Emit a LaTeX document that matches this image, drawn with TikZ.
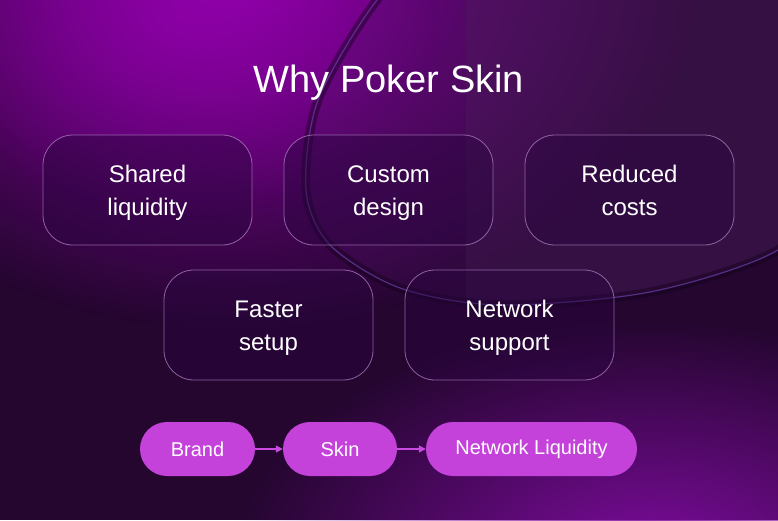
\documentclass[tikz,border=0pt]{standalone}
\usepackage{fontspec}
\setmainfont{Liberation Sans}
\usetikzlibrary{fadings,arrows.meta,shapes.misc}
\tikzfading[name=softglow, inner color=transparent!0, outer color=transparent!100]
\definecolor{bgbase}{HTML}{24062F}
\definecolor{glowtl}{HTML}{9200AC}
\definecolor{glowbr}{HTML}{7E0C9E}
\definecolor{ringin}{HTML}{4A1460}
\definecolor{ringright}{HTML}{4A2258}
\definecolor{ringdark}{HTML}{14021C}
\definecolor{ringhi}{HTML}{6A40A8}
\definecolor{boxfill}{HTML}{2A0540}
\definecolor{boxline}{HTML}{B888CC}
\definecolor{pill}{HTML}{C442DA}
\definecolor{arrowc}{HTML}{C84ADE}
\tikzset{
  glassbox/.style={draw=boxline, draw opacity=0.7, line width=0.8pt, fill=boxfill, fill opacity=0.45, text opacity=1,
    rounded corners=30pt, minimum width=209pt, minimum height=110pt, align=center, text=white,
    font=\fontsize{24}{33}\selectfont, inner sep=0pt, text height=54pt, text depth=4pt},
  pillbox/.style={fill=pill, rounded corners=27pt, minimum height=54pt, text=white,
    font=\fontsize{20}{24}\selectfont, inner sep=0pt},
  flowarrow/.style={draw=arrowc, line width=1.2pt, -{Triangle[length=7pt,width=7pt]}},
}
\begin{document}
\begin{tikzpicture}[x=1pt,y=-1pt]
\useasboundingbox (0,0) rectangle (778,520);
\begin{scope}
\clip (0,0) rectangle (778,520);
\fill[bgbase] (0,0) rectangle (778,520);
\fill[glowtl, path fading=softglow] (230,-30) ellipse [x radius=470, y radius=360];
\fill[glowtl, path fading=softglow, opacity=0.6] (180,20) ellipse [x radius=260, y radius=200];
\fill[glowbr, path fading=softglow] (650,560) ellipse [x radius=420, y radius=240];
% ring interior
\begin{scope}
\clip plot[smooth cycle] coordinates {(377,0) (318,100) (306,190) (330,245) (400,288) (500,305) (650,292) (778,250) (840,180) (840,-60) (430,-40)};
\fill[ringin, opacity=0.25] (300,-60) rectangle (840,320);
\fill[ringright, opacity=0.3] (466,-60) rectangle (840,320);
\end{scope}
\draw[ringdark, line width=9pt, opacity=0.45] plot[smooth cycle] coordinates {(377,0) (318,100) (306,190) (330,245) (400,288) (500,305) (650,292) (778,250) (840,180) (840,-60) (430,-40)};
\draw[ringhi, line width=1.2pt, opacity=0.7] plot[smooth cycle] coordinates {(377,0) (318,100) (306,190) (330,245) (400,288) (500,305) (650,292) (778,250) (840,180) (840,-60) (430,-40)};
\end{scope}

\node[text=white, font=\fontsize{38}{46}\selectfont] (title) at (389,83) {Why Poker Skin};

\node[glassbox] (b1) at (147.5,190) {Shared\\liquidity};
\node[glassbox] (b2) at (388.5,190) {Custom\\design};
\node[glassbox] (b3) at (629.5,190) {Reduced\\costs};
\node[glassbox] (b4) at (268.5,325) {Faster\\setup};
\node[glassbox] (b5) at (509.5,325) {Network\\support};

\node[pillbox, minimum width=115pt] (brand) at (197.5,449) {Brand};
\node[pillbox, minimum width=114pt] (skin) at (340,449) {Skin};
\node[pillbox, minimum width=211pt] (net) at (531.5,449) {Network Liquidity};
\draw[flowarrow] (brand) -- (skin);
\draw[flowarrow] (skin) -- (net);
\end{tikzpicture}
\end{document}
